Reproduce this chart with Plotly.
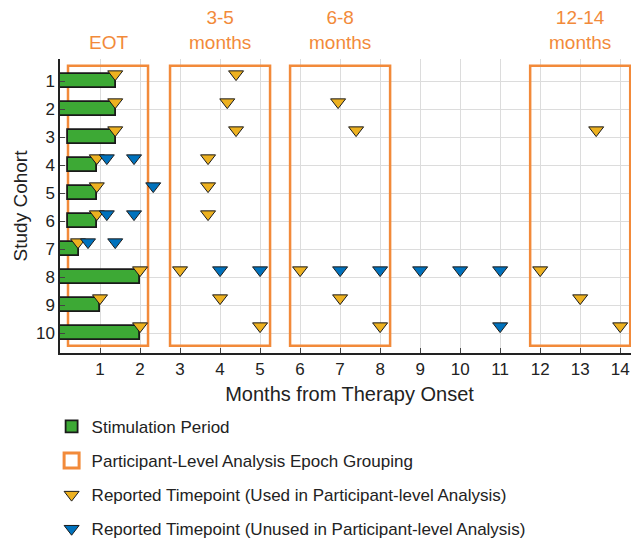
import plotly.graph_objects as go

# ---- data ----
cohorts = [1, 2, 3, 4, 5, 6, 7, 8, 9, 10]
stim_start = [0, 0, 0.2, 0.2, 0.2, 0.2, 0, 0, 0, 0]
stim_end = [1.4, 1.4, 1.4, 0.93, 0.93, 0.93, 0.47, 2.0, 1.0, 2.0]

used_cohort = [1, 1, 2, 2, 2, 3, 3, 3, 3, 4, 4, 5, 5, 6, 6, 7,
               8, 8, 8, 8, 9, 9, 9, 9, 10, 10, 10, 10]
used_month = [1.38, 4.4, 1.38, 4.18, 6.95, 1.38, 4.4, 7.4, 13.4, 0.92, 3.7, 0.92, 3.7, 0.92, 3.7, 0.45,
              2.0, 3.0, 6.0, 12.0, 1.0, 4.0, 7.0, 13.0, 2.0, 5.0, 8.0, 14.0]

unused_cohort = [4, 4, 5, 6, 6, 7, 7, 8, 8, 8, 8, 8, 8, 8, 10]
unused_month = [1.17, 1.85, 2.33, 1.17, 1.85, 0.7, 1.38, 4.0, 5.0, 7.0, 8.0, 9.0, 10.0, 11.0, 11.0]

epoch_labels = ["EOT", "3-5<br>months", "6-8<br>months", "12-14<br>months"]
epoch_start = [0.2, 2.75, 5.75, 11.75]
epoch_end = [2.2, 5.25, 8.25, 14.25]

x_ticks = list(range(1, 15))

# ---- style ----
GREEN = "#3DA935"
ORANGE = "#F28A3A"
YELLOW = "#EDB120"
BLUE = "#0072BD"
FONT = "Liberation Sans, Arial, sans-serif"
marker_shift = -0.25  # markers sit on top edge of the row

fig = go.Figure()

fig.add_trace(go.Bar(
    y=cohorts, x=[e - s for s, e in zip(stim_start, stim_end)], base=stim_start,
    orientation="h", width=0.5,
    marker=dict(color=GREEN, line=dict(color="#1a1a1a", width=1.8)),
    name="Stimulation Period", legendgroup="a",
))
fig.add_trace(go.Scatter(
    x=[None], y=[None], mode="markers",
    marker=dict(symbol="square-open", color=ORANGE, size=15, line=dict(width=3, color=ORANGE)),
    name="Participant-Level Analysis Epoch Grouping", legendgroup="b",
))
fig.add_trace(go.Scatter(
    x=used_month, y=[c + marker_shift for c in used_cohort], mode="markers",
    marker=dict(symbol="triangle-down", color=YELLOW, size=13, line=dict(color="#1a1a1a", width=1)),
    name="Reported Timepoint (Used in Participant-level Analysis)", legendgroup="c",
))
fig.add_trace(go.Scatter(
    x=unused_month, y=[c + marker_shift for c in unused_cohort], mode="markers",
    marker=dict(symbol="triangle-down", color=BLUE, size=13, line=dict(color="#1a1a1a", width=1)),
    name="Reported Timepoint (Unused in Participant-level Analysis)", legendgroup="d",
))

for lbl, s, e in zip(epoch_labels, epoch_start, epoch_end):
    fig.add_shape(type="rect", x0=s, x1=e, y0=0.45, y1=10.45, xref="x", yref="y",
                  line=dict(color=ORANGE, width=2.5), fillcolor="rgba(0,0,0,0)", layer="between")
    fig.add_annotation(x=(s + e) / 2, y=1, yref="paper", yanchor="bottom", yshift=4,
                       text=lbl, showarrow=False,
                       font=dict(color=ORANGE, size=19, family=FONT))

fig.update_layout(
    width=639, height=539,
    margin=dict(l=52, r=8, t=51, b=194, autoexpand=False),
    plot_bgcolor="white", paper_bgcolor="white",
    font=dict(family=FONT, size=17, color="#222222"),
    showlegend=True,
    legend=dict(x=-0.0145, y=-0.19, xanchor="left", yanchor="top",
                traceorder="grouped", tracegroupgap=9,
                font=dict(size=17, color="#222222"), bgcolor="rgba(0,0,0,0)"),
    bargap=0,
)
fig.update_xaxes(range=[0, 14.47], tickvals=x_ticks, ticks="inside", ticklen=5,
                 showgrid=True, gridcolor="#DCDCDC", gridwidth=1,
                 showline=True, linecolor="#222222", linewidth=1.5, zeroline=False,
                 automargin=False,
                 title=dict(text="Months from Therapy Onset", font=dict(size=20), standoff=9),
                 tickfont=dict(size=17))
fig.update_yaxes(range=[10.71, 0.21], tickvals=cohorts, ticks="inside", ticklen=5,
                 showgrid=True, gridcolor="#DCDCDC", gridwidth=1,
                 showline=True, linecolor="#222222", linewidth=1.5, zeroline=False,
                 automargin=False,
                 title=dict(text="Study Cohort", font=dict(size=19), standoff=3),
                 tickfont=dict(size=17))

fig.write_html("out.html")
